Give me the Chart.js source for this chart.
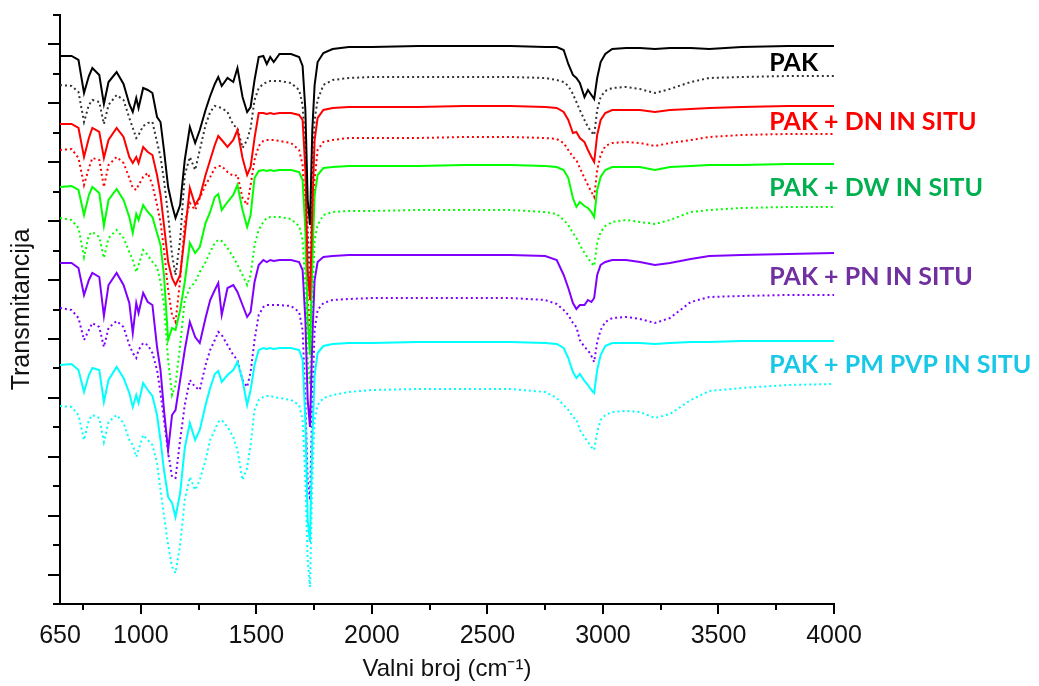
<!DOCTYPE html>
<html>
<head>
<meta charset="utf-8">
<script src="https://cdn.jsdelivr.net/npm/chart.js@4.4.0/dist/chart.umd.min.js"></script>
<style>
  html, body { margin: 0; padding: 0; background: #fff; }
  #wrap { width: 1039px; height: 686px; }
</style>
</head>
<body>
<div id="wrap"><canvas id="ftirChart" width="1039" height="686"></canvas></div>
<script>
// FTIR spectra, transmittance in arbitrary units (offset stack)
const wavenumbers = [650,700,730,754,775,790,820,840,860,895,
  925,950,965,980,990,1010,1030,1050,1070,1085,
  1100,1118,1135,1150,1170,1190,1212,1235,1255,1280,
  1300,1320,1335,1350,1375,1400,1418,1440,1460,1475,
  1492,1510,1530,1545,1560,1575,1600,1650,1685,1700,
  1712,1722,1732,1742,1752,1765,1790,1830,1900,2000,
  2200,2400,2600,2750,2800,2830,2850,2870,2885,2900,
  2920,2935,2950,2962,2975,2990,3010,3040,3100,3160,
  3225,3290,3380,3460,3600,3800,4000];

// PAK
const pakSolid = [548,548,544,511,528,536,529,500,522,532,
  520,500,492,506,496,516,514,511,487,482,
  454,417,399,386,399,444,477,461,474,494,
  508,520,527,518,526,522,536,507,492,497,
  524,547,548,540,547,542,550,550,547,538,
  494,404,379,474,519,542,551,555,557,557,
  558,558,558,557,557,554,540,529,526,521,
  507,514,509,505,526,542,550,555,556,556,
  555,556,556,555,557,558,558];
const pakDotted = [519,518,512,482,499,504,502,480,499,509,
  504,486,476,466,469,478,481,482,462,447,
  424,389,349,329,364,429,447,434,454,479,
  492,498,497,496,492,479,476,456,464,476,
  504,516,520,522,523,523,523,521,514,499,
  454,374,324,424,484,504,519,524,526,527,
  527,527,527,526,524,522,518,510,502,494,
  484,477,472,469,494,507,513,516,517,515,
  511,515,522,526,527,528,528];

// PAK + DN IN SITU
const dnSolid = [480,480,476,447,466,476,472,446,464,476,
  467,447,441,447,441,457,452,449,429,409,
  379,342,326,319,329,369,416,399,407,429,
  444,459,468,464,457,464,474,446,429,437,
  466,491,491,490,491,490,491,491,489,484,
  434,334,304,394,464,486,494,496,497,497,
  497,498,498,497,496,492,484,471,472,466,
  462,454,447,442,469,484,491,494,494,494,
  492,494,495,496,497,498,498];
const dnDotted = [454,455,446,419,436,446,444,417,439,447,
  441,426,416,414,419,427,431,419,399,382,
  354,314,289,282,324,382,401,394,406,419,
  427,436,438,438,432,428,429,406,399,419,
  444,458,463,464,464,464,463,461,454,439,
  389,304,269,354,424,454,462,464,466,466,
  466,467,467,466,465,461,454,447,444,436,
  426,419,412,407,434,449,458,461,462,461,
  458,461,464,467,469,470,470];

// PAK + DW IN SITU
const dwSolid = [417,418,414,389,409,417,411,378,404,415,
  404,387,371,390,384,399,392,387,371,359,
  329,264,276,274,294,322,361,351,357,381,
  392,407,410,394,402,409,419,394,377,389,
  426,433,434,433,434,433,434,434,432,424,
  374,284,249,344,409,429,436,437,438,438,
  438,439,439,438,437,434,426,406,397,402,
  398,396,392,387,414,427,434,437,437,437,
  434,437,438,439,439,440,440];
const dwDotted = [386,384,376,347,369,372,367,346,366,374,
  366,352,344,332,339,354,349,342,337,322,
  299,244,209,219,259,304,316,322,332,342,
  352,361,364,363,356,347,339,329,319,329,
  359,374,382,386,387,387,387,385,378,364,
  319,244,219,304,364,379,389,392,393,393,
  394,394,394,392,390,384,379,371,366,359,
  351,346,341,338,361,372,378,382,384,382,
  380,384,392,394,396,397,397];

// PAK + PN IN SITU
const pnSolid = [341,341,336,309,324,331,327,288,319,331,
  319,301,271,301,291,311,302,299,257,234,
  194,154,189,194,224,254,282,267,261,286,
  304,314,321,289,316,319,312,299,287,292,
  322,339,344,342,344,343,344,344,342,334,
  284,204,177,264,324,342,347,348,349,349,
  349,349,349,348,344,329,316,301,295,299,
  299,304,302,306,329,339,342,344,344,342,
  339,341,345,348,349,350,351];
const pnDotted = [296,294,286,264,274,281,277,257,276,283,
  277,259,251,246,254,261,259,251,234,211,
  184,152,127,126,164,199,224,217,214,239,
  254,264,272,269,259,249,244,224,217,232,
  264,289,297,299,299,299,299,298,292,274,
  204,124,104,204,274,294,301,304,305,306,
  306,306,306,304,300,294,289,281,277,264,
  257,254,248,242,262,274,282,286,287,285,
  281,286,302,307,308,309,309];

// PAK + PM PVP IN SITU
const pvpSolid = [239,240,234,212,229,236,234,202,224,237,
  226,211,197,209,201,221,214,208,189,164,
  134,107,101,87,111,156,181,164,174,199,
  216,230,233,222,229,234,242,224,199,214,
  239,254,256,255,256,255,256,256,254,244,
  184,84,62,164,229,251,258,260,261,261,
  262,262,262,261,260,256,246,232,226,230,
  223,219,214,211,234,249,258,261,261,261,
  260,261,262,262,263,263,263];
const pvpDotted = [198,197,189,164,184,189,186,162,182,189,
  181,164,159,147,154,169,164,159,141,114,
  89,59,37,31,59,104,127,114,124,144,
  164,174,182,184,177,167,154,124,136,159,
  194,204,207,208,208,207,206,204,199,184,
  124,44,17,124,184,199,206,209,212,214,
  215,215,215,212,206,199,194,187,185,174,
  167,162,157,154,172,184,189,192,193,192,
  186,190,204,213,216,219,220];

const seriesLabels = ['PAK', 'PAK + DN IN SITU', 'PAK + DW IN SITU', 'PAK + PN IN SITU', 'PAK + PM PVP IN SITU'];
const lineColors = ['#000000', '#ff0000', '#00ff00', '#8000ff', '#00ffff'];
const labelColors = ['#000000', '#ff0000', '#00b050', '#7030a0', '#19c8e6'];
const solidSeries = [pakSolid, dnSolid, dwSolid, pnSolid, pvpSolid];
const dottedSeries = [pakDotted, dnDotted, dwDotted, pnDotted, pvpDotted];

const xTickLabels = [650, 1000, 1500, 2000, 2500, 3000, 3500, 4000];
const xMinorTicks = [750, 1250, 1750, 2250, 2750, 3250, 3750];
const yMax = 589;
const yTickCount = 20;
const labelAt = 3720;

const axisFont = '"Liberation Sans", Arial, sans-serif';

function toPoints(values) {
  return values.map((v, i) => ({ x: wavenumbers[i], y: v }));
}

const datasets = [];
solidSeries.forEach((s, i) => {
  datasets.push({
    label: seriesLabels[i],
    data: toPoints(s),
    borderColor: lineColors[i],
    borderWidth: 2,
    pointRadius: 0,
    fill: false
  });
});
dottedSeries.forEach((s, i) => {
  datasets.push({
    label: seriesLabels[i] + ' (ref)',
    data: toPoints(s),
    borderColor: i === 0 ? '#333333' : lineColors[i],
    borderWidth: 2,
    borderDash: [2, 3],
    pointRadius: 0,
    fill: false
  });
});

// tick marks (long/short) and the in-plot series names
const axisDecor = {
  id: 'axisDecor',
  afterDraw(chart) {
    const { ctx, chartArea, scales: { x, y } } = chart;
    ctx.save();
    ctx.strokeStyle = '#000';
    ctx.lineWidth = 2;
    ctx.beginPath();
    xTickLabels.slice(1).forEach(v => {
      const px = Math.round(x.getPixelForValue(v));
      ctx.moveTo(px, chartArea.bottom);
      ctx.lineTo(px, chartArea.bottom + 10);
    });
    xMinorTicks.forEach(v => {
      const px = Math.round(x.getPixelForValue(v));
      ctx.moveTo(px, chartArea.bottom);
      ctx.lineTo(px, chartArea.bottom + 6);
    });
    for (let i = 0; i <= yTickCount; i++) {
      const py = Math.round(y.getPixelForValue(i * yMax / yTickCount));
      const len = i % 2 ? 12 : 7;
      ctx.moveTo(chartArea.left, py);
      ctx.lineTo(chartArea.left - len, py);
    }
    ctx.stroke();

    // names sit between each solid/dotted pair, slightly nearer the dotted one
    ctx.font = 'bold 25px Lato, "Open Sans", sans-serif';
    ctx.textAlign = 'left';
    ctx.textBaseline = 'middle';
    seriesLabels.forEach((t, i) => {
      const s = solidSeries[i][solidSeries[i].length - 1];
      const d = dottedSeries[i][dottedSeries[i].length - 1];
      const pos = s - 0.56 * (s - d);
      ctx.fillStyle = labelColors[i];
      ctx.fillText(t, x.getPixelForValue(labelAt), y.getPixelForValue(pos));
    });
    ctx.restore();
  }
};

new Chart(document.getElementById('ftirChart').getContext('2d'), {
  type: 'line',
  data: { datasets: datasets },
  options: {
    responsive: false,
    animation: false,
    devicePixelRatio: 1,
    layout: { padding: { top: 15, right: 205, left: 0, bottom: 0 } },
    plugins: {
      legend: { display: false },
      tooltip: { enabled: false }
    },
    scales: {
      x: {
        type: 'linear',
        min: 650,
        max: 4000,
        afterBuildTicks: s => { s.ticks = xTickLabels.map(v => ({ value: v })); },
        afterFit: s => { s.height = 82; },
        grid: { drawOnChartArea: false, tickLength: 10, tickColor: 'transparent' },
        border: { display: true, color: '#000', width: 2 },
        ticks: {
          autoSkip: false,
          maxRotation: 0,
          padding: 7,
          color: '#111',
          font: { family: axisFont, size: 25 },
          callback: v => String(v)
        },
        title: {
          display: true,
          text: 'Valni broj (cm⁻¹)',
          color: '#111',
          font: { family: axisFont, size: 24 },
          padding: { top: 0, bottom: 2 }
        }
      },
      y: {
        type: 'linear',
        min: 0,
        max: yMax,
        afterBuildTicks: s => {
          const t = [];
          for (let i = 0; i <= yTickCount; i++) t.push({ value: i * yMax / yTickCount });
          s.ticks = t;
        },
        afterFit: s => { s.width = 60; },
        grid: { drawOnChartArea: false, drawTicks: false },
        border: { display: true, color: '#000', width: 2 },
        ticks: { display: false },
        title: {
          display: true,
          text: 'Transmitancija',
          color: '#111',
          font: { family: axisFont, size: 25 },
          padding: { top: 7, bottom: 0 }
        }
      }
    }
  },
  plugins: [axisDecor]
});
</script>
</body>
</html>
